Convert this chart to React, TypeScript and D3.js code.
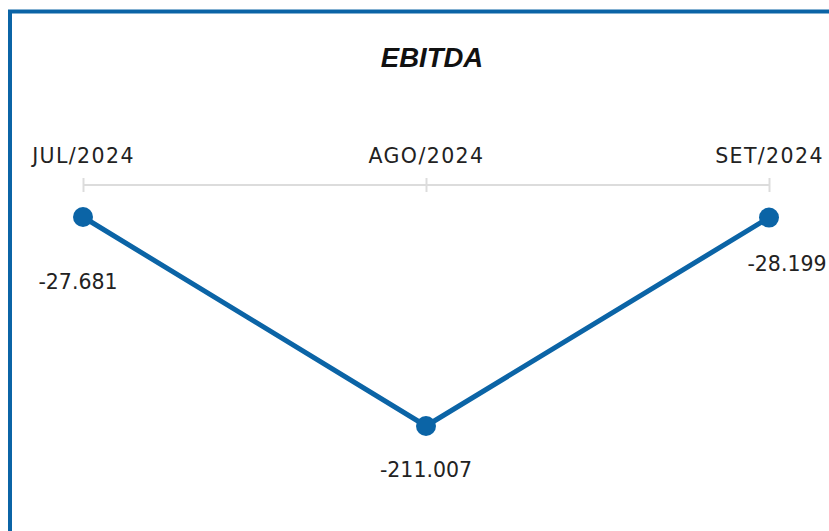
import React, { useEffect, useRef } from 'react';
import * as d3 from 'd3';

const months = ['JUL/2024', 'AGO/2024', 'SET/2024'];
const ebitda = [-27.681, -211.007, -28.199];
const valueLabels = ['-27.681', '-211.007', '-28.199'];

const W = 829;
const H = 531;
const BLUE = '#0b64a6';

const App = () => {
  const svgRef = useRef<SVGSVGElement>(null);

  useEffect(() => {
    const svg = d3.select(svgRef.current);
    svg.selectAll('*').remove();

    // frame (only left and top edges are visible in the shot)
    svg.append('rect')
      .attr('x', 10)
      .attr('y', 11.5)
      .attr('width', W + 20)
      .attr('height', H + 20)
      .attr('fill', 'white')
      .attr('stroke', BLUE)
      .attr('stroke-width', 4);

    svg.append('text')
      .attr('x', 432)
      .attr('y', 67)
      .attr('text-anchor', 'middle')
      .attr('font-family', '"Liberation Sans", Arial, sans-serif')
      .attr('font-weight', 'bold')
      .attr('font-style', 'italic')
      .attr('font-size', 27.5)
      .attr('fill', '#111')
      .text('EBITDA');

    const x = d3.scalePoint<string>()
      .domain(months)
      .range([83, 769]);

    const y = d3.scaleLinear()
      .domain([d3.min(ebitda)!, d3.max(ebitda)!])
      .range([426, 217]);

    const axisY = 185;
    const axis = d3.axisTop(x).tickSize(0).tickPadding(22);
    const ag = svg.append('g')
      .attr('transform', `translate(0, ${axisY})`)
      .call(axis);
    ag.select('.domain')
      .attr('d', `M${x(months[0])},0H${x(months[2])}`)
      .attr('stroke', '#dcdcdc')
      .attr('stroke-width', 2);
    ag.selectAll('.tick line').remove();
    ag.selectAll('.tick')
      .append('line')
      .attr('y1', -7)
      .attr('y2', 7)
      .attr('stroke', '#dcdcdc')
      .attr('stroke-width', 2);
    ag.selectAll('.tick text')
      .attr('font-family', '"DejaVu Sans", sans-serif')
      .attr('font-size', 20.5)
      .attr('letter-spacing', 1.4)
      .attr('fill', '#222')
      .attr('dy', 0);

    const line = d3.line<number>()
      .x((_, i) => x(months[i])!)
      .y((d) => y(d));

    svg.append('path')
      .datum(ebitda)
      .attr('d', line)
      .attr('fill', 'none')
      .attr('stroke', BLUE)
      .attr('stroke-width', 5);

    svg.selectAll('circle.pt')
      .data(ebitda)
      .enter()
      .append('circle')
      .attr('class', 'pt')
      .attr('cx', (_, i) => x(months[i])!)
      .attr('cy', (d) => y(d))
      .attr('r', 10)
      .attr('fill', BLUE);

    // label placement, nudged like the original to dodge the line
    const labelDx = [-5, 0, 18];
    const labelDy = [72, 51, 53];
    svg.selectAll('text.val')
      .data(ebitda)
      .enter()
      .append('text')
      .attr('class', 'val')
      .attr('x', (_, i) => x(months[i])! + labelDx[i])
      .attr('y', (d, i) => y(d) + labelDy[i])
      .attr('text-anchor', 'middle')
      .attr('font-family', '"DejaVu Sans", sans-serif')
      .attr('font-size', 20.5)
      .attr('fill', '#222')
      .text((_, i) => valueLabels[i]);
  }, []);

  return (
    <svg
      ref={svgRef}
      width={W}
      height={H}
      style={{ position: 'absolute', left: 0, top: 0, display: 'block' }}
    />
  );
};

export default App;
